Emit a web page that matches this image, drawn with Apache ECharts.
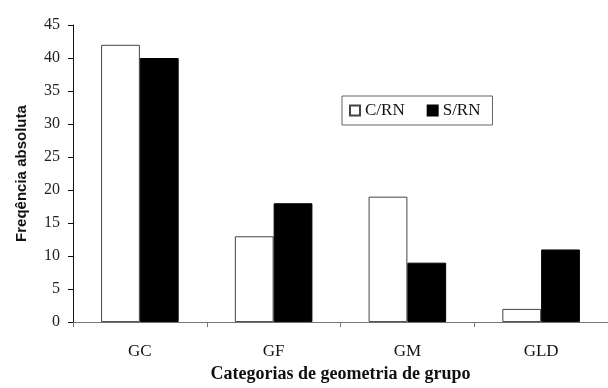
<!DOCTYPE html>
<html>
<head>
<meta charset="utf-8">
<script src="https://cdn.jsdelivr.net/npm/echarts@6/dist/echarts.min.js"></script>
<style>html,body{margin:0;padding:0;background:#fff}#c{width:608px;height:388px}</style>
</head>
<body>
<div id="c"></div>
<script>
const categories = ['GC', 'GF', 'GM', 'GLD'];
const seriesNames = ['C/RN', 'S/RN'];
const cRN = [42, 13, 19, 2];
const sRN = [40, 18, 9, 11];
const yTicks = { min: 0, max: 45, interval: 5 };

const chart = echarts.init(document.getElementById('c'), null, { renderer: 'canvas' });
chart.setOption({
  animation: false,
  backgroundColor: '#fff',
  grid: { left: 73, top: 25, width: 542, height: 303, containLabel: false },
  legend: {
    data: seriesNames,
    left: 342, top: 96,
    orient: 'horizontal',
    icon: 'rect',
    itemWidth: 10, itemHeight: 10, itemGap: 22,
    padding: [6, 12, 6, 7],
    borderColor: '#666', borderWidth: 1,
    textStyle: { fontFamily: 'Liberation Serif', fontSize: 17, color: '#111' }
  },
  xAxis: {
    type: 'category',
    data: categories,
    name: 'Categorias de geometria de grupo',
    nameLocation: 'middle',
    nameGap: 42,
    nameTextStyle: { fontFamily: 'Liberation Serif', fontWeight: 'bold', fontSize: 18, color: '#111' },
    axisLine: { lineStyle: { color: '#777', width: 1 } },
    axisTick: { show: true, length: 5, inside: false, lineStyle: { color: '#777' } },
    axisLabel: { fontFamily: 'Liberation Serif', fontSize: 17, color: '#111', margin: 21 },
    splitLine: { show: false }
  },
  yAxis: {
    type: 'value',
    min: yTicks.min, max: yTicks.max, interval: yTicks.interval,
    name: 'Freqência absoluta',
    nameLocation: 'middle',
    nameGap: 44,
    nameRotate: 90,
    nameTextStyle: { fontFamily: 'Liberation Sans', fontWeight: 'bold', fontSize: 15, color: '#111' },
    axisLine: { show: true, lineStyle: { color: '#111', width: 1 } },
    axisTick: { show: true, length: 5, lineStyle: { color: '#111' } },
    axisLabel: { fontFamily: 'Liberation Serif', fontSize: 16, color: '#222', margin: 13 },
    splitLine: { show: false }
  },
  series: [
    {
      name: seriesNames[0], type: 'bar', data: cRN,
      barGap: '0%', barCategoryGap: '42%',
      itemStyle: { color: '#fff', borderColor: '#444', borderWidth: 1 }
    },
    {
      name: seriesNames[1], type: 'bar', data: sRN,
      barGap: '0%', barCategoryGap: '42%',
      itemStyle: { color: '#000', borderColor: '#000', borderWidth: 1 }
    }
  ]
});
</script>
</body>
</html>
